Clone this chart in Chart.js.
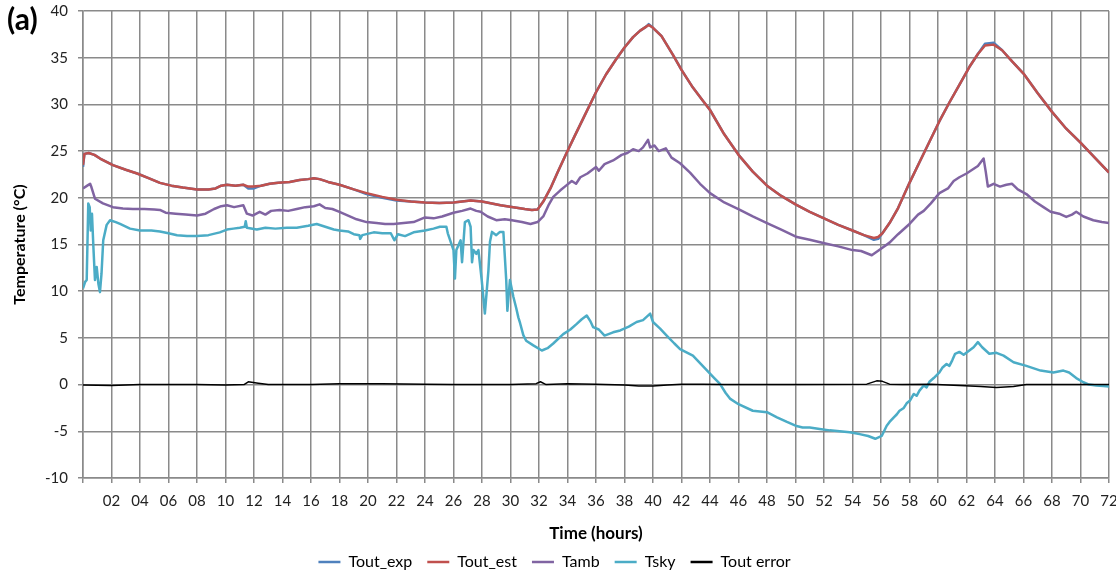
<!DOCTYPE html>
<html><head><meta charset="utf-8">
<script src="https://cdn.jsdelivr.net/npm/chart.js@4.4.0/dist/chart.umd.min.js"></script>
<style>
html,body{margin:0;padding:0;background:#fff;}
#wrap{position:relative;width:1116px;height:574px;}
#panel{position:absolute;left:7px;top:0px;font:bold 30px Lato, sans-serif;color:#000;}
</style></head><body>
<div id="wrap"><canvas id="c" width="1116" height="574"></canvas><div id="panel">(a)</div></div>
<script>
const seriesNames = ['Tout_exp','Tout_est','Tamb','Tsky','Tout error'];
const seriesColors = ['#4F81BD','#C0504D','#8064A2','#4BACC6','#000000'];

const hoursOut = [0,0.1,0.4,0.8,1.2,2.1,3.0,3.8,4.6,5.4,6.2,7.0,8.0,8.8,9.3,9.7,10.1,10.7,11.25,11.6,11.95,12.5,13.1,13.7,14.5,15.2,15.8,16.2,16.6,17.2,18.0,19.0,19.9,21.0,22.0,23.0,24.0,25.0,26.0,27.2,28.0,29.3,30.2,31.0,31.5,31.9,32.3,32.8,33.3,33.9,34.5,35.2,36.0,36.7,37.4,38.0,38.6,39.1,39.5,39.7,40.0,40.6,41.4,42.0,42.8,43.5,44.0,45.0,46.0,47.0,48.0,49.0,50.0,51.0,52.0,53.0,54.0,54.8,55.5,55.8,56.1,56.6,57.2,58.0,58.7,59.4,60.1,60.8,61.5,62.2,62.8,63.3,63.9,64.5,65.2,66.0,67.0,68.0,69.0,70.0,71.0,72.0];
const toutEst = [23.5,24.7,24.8,24.6,24.2,23.5,23.0,22.6,22.1,21.6,21.3,21.1,20.9,20.9,21.0,21.3,21.4,21.3,21.4,21.2,21.2,21.3,21.5,21.6,21.7,21.9,22.0,22.1,22.0,21.7,21.4,20.9,20.5,20.1,19.8,19.6,19.5,19.45,19.5,19.7,19.6,19.2,19.0,18.8,18.7,18.75,19.6,21.0,22.7,24.7,26.6,28.8,31.3,33.2,34.8,36.1,37.2,37.9,38.3,38.5,38.2,37.3,35.3,33.7,31.8,30.4,29.4,26.8,24.6,22.8,21.3,20.2,19.3,18.5,17.8,17.1,16.5,16.0,15.7,15.8,16.2,17.3,18.9,21.6,23.8,26.0,28.2,30.2,32.1,34.0,35.4,36.3,36.4,35.8,34.6,33.3,31.2,29.2,27.4,25.9,24.3,22.7];
const toutExp = [23.3,24.7,24.8,24.6,24.2,23.5,23.0,22.6,22.1,21.6,21.3,21.1,20.9,20.9,21.0,21.3,21.4,21.3,21.4,21.0,21.0,21.3,21.5,21.6,21.7,21.9,22.0,22.1,22.0,21.7,21.4,20.9,20.4,20.0,19.7,19.6,19.5,19.45,19.5,19.7,19.6,19.2,19.0,18.8,18.7,18.75,19.6,21.0,22.7,24.7,26.6,28.8,31.3,33.2,34.8,36.1,37.2,37.9,38.3,38.6,38.2,37.3,35.3,33.7,31.8,30.4,29.4,26.8,24.6,22.8,21.3,20.2,19.3,18.5,17.8,17.1,16.5,16.0,15.5,15.6,16.2,17.3,18.9,21.6,23.8,26.0,28.2,30.2,32.1,34.0,35.4,36.5,36.6,35.8,34.6,33.3,31.2,29.2,27.4,25.9,24.3,22.7];

const hoursAmb = [0,0.3,0.5,0.6,0.84,1.4,2.1,2.8,3.5,4.3,5.0,5.4,5.8,6.5,7.2,8.0,8.6,9.2,9.7,10.1,10.6,11.25,11.5,11.9,12.4,12.8,13.2,13.8,14.4,15.0,15.6,16.2,16.6,17.0,17.5,18.0,18.6,19.2,19.9,20.6,21.2,21.8,22.5,23.2,24.0,24.6,25.2,26.0,26.6,27.2,27.6,27.9,28.4,29.0,29.6,30.1,30.8,31.4,31.9,32.3,32.7,33.0,33.5,33.9,34.3,34.6,34.9,35.4,36.0,36.2,36.6,37.2,37.8,38.2,38.6,39.0,39.3,39.65,39.8,40.1,40.4,40.9,41.3,41.9,42.6,43.3,44.0,45.0,46.1,47.0,48.0,49.0,50.1,51.0,52.1,53.0,54.0,54.6,55.35,56.0,56.6,57.2,58.0,58.6,59.0,59.5,60.1,60.7,61.1,61.5,62.0,62.4,62.8,63.0,63.2,63.35,63.5,63.9,64.35,64.8,65.2,65.6,66.2,66.8,67.4,67.9,68.5,69.0,69.4,69.7,70.2,70.9,71.5,72.0];
const tamb = [21.0,21.3,21.5,21.1,19.9,19.4,19.0,18.85,18.8,18.8,18.75,18.7,18.4,18.3,18.2,18.1,18.3,18.8,19.1,19.2,19.0,19.2,18.3,18.1,18.5,18.2,18.6,18.7,18.6,18.8,19.0,19.1,19.3,18.9,18.8,18.5,18.1,17.7,17.4,17.3,17.2,17.2,17.3,17.4,17.9,17.8,18.0,18.4,18.6,18.85,18.6,18.5,18.0,17.6,17.7,17.6,17.4,17.2,17.4,18.0,19.3,20.1,20.8,21.3,21.8,21.5,22.2,22.6,23.3,22.9,23.6,24.0,24.6,24.8,25.2,25.0,25.4,26.2,25.4,25.6,25.0,25.3,24.3,23.7,22.7,21.5,20.5,19.5,18.7,18.0,17.3,16.6,15.8,15.5,15.1,14.8,14.4,14.3,13.85,14.55,15.2,16.1,17.2,18.2,18.6,19.4,20.5,21.0,21.8,22.2,22.6,23.0,23.4,23.8,24.2,22.8,21.2,21.5,21.2,21.4,21.5,20.9,20.4,19.6,19.0,18.5,18.3,17.95,18.2,18.5,18.0,17.6,17.4,17.3];

const hoursSky = [0,0.15,0.26,0.37,0.47,0.54,0.63,0.73,0.84,0.96,1.08,1.19,1.3,1.42,1.66,1.9,2.3,2.6,3.3,4.0,4.8,5.4,6.0,6.6,7.3,8.0,8.8,9.6,10.1,10.55,11.0,11.35,11.42,11.5,12.2,12.8,13.5,14.3,15.0,15.8,16.4,17.0,17.6,18.0,18.6,19.0,19.4,19.45,19.6,20.4,21.0,21.6,21.85,22.1,22.6,23.2,24.0,24.6,25.05,25.5,25.6,26.0,26.1,26.2,26.5,26.6,26.8,27.05,27.2,27.3,27.4,27.6,27.75,27.98,28.2,28.45,28.56,28.7,29.0,29.26,29.5,29.7,29.78,29.96,30.2,30.4,30.55,30.67,30.9,31.1,31.6,32.2,32.6,33.0,33.7,34.2,34.65,35.0,35.35,35.6,35.8,36.2,36.6,37.2,37.7,38.3,38.85,39.3,39.8,40.0,40.5,40.96,41.5,41.9,42.8,43.3,43.8,44.3,44.7,45.1,45.4,46.0,47.0,48.0,48.7,49.4,50.0,50.5,51.0,51.7,52.4,53.1,53.8,54.5,55.1,55.6,56.05,56.4,56.6,56.9,57.1,57.3,57.6,57.8,58.04,58.3,58.5,58.7,59.0,59.2,59.4,59.7,60.1,60.3,60.6,60.8,61.0,61.2,61.5,61.8,62.2,62.5,62.8,63.1,63.6,64.1,64.6,65.3,66.2,67.2,68.1,68.8,69.2,69.7,70.2,70.6,71.1,71.6,72.0];
const tsky = [10.3,11.0,11.2,19.4,19.0,16.5,18.3,14.7,11.2,12.6,10.8,9.9,11.9,15.45,17.1,17.6,17.4,17.2,16.7,16.5,16.5,16.4,16.2,16.0,15.9,15.9,16.0,16.3,16.6,16.7,16.8,16.9,17.5,16.8,16.6,16.8,16.7,16.8,16.8,17.0,17.2,16.9,16.6,16.5,16.4,16.1,16.0,15.6,16.0,16.3,16.2,16.2,15.45,16.1,15.9,16.3,16.5,16.7,16.9,16.9,16.2,14.4,11.35,14.4,15.45,13.1,17.4,17.6,16.9,13.1,14.4,14.0,14.4,11.2,7.6,12.2,15.3,16.35,16.0,16.35,16.35,11.2,7.9,11.2,9.4,8.2,7.2,6.6,5.3,4.7,4.2,3.65,3.9,4.4,5.4,5.9,6.5,7.0,7.4,6.8,6.15,5.9,5.25,5.6,5.8,6.2,6.7,6.9,7.6,6.7,6.0,5.25,4.4,3.8,3.1,2.3,1.5,0.7,0.07,-0.9,-1.5,-2.1,-2.8,-2.95,-3.5,-4.0,-4.4,-4.6,-4.6,-4.75,-4.9,-5.0,-5.1,-5.3,-5.5,-5.8,-5.5,-4.4,-4.0,-3.5,-3.2,-2.8,-2.5,-2.0,-1.7,-1.0,-1.2,-0.64,-0.1,-0.3,0.3,0.7,1.3,1.8,2.2,2.0,2.6,3.3,3.5,3.2,3.65,4.0,4.55,4.0,3.3,3.4,3.1,2.4,2.0,1.5,1.3,1.5,1.3,0.7,0.25,0.0,-0.1,-0.15,-0.2];

const hoursErr = [0,2,4,8,10,11.3,11.6,12.3,13,16,18,21,24,26,30,31.8,32.1,32.5,34,36,38,39,40,41,42,43.5,45,50,55,55.7,56.1,56.6,57.5,59.5,61.5,63,64.1,65.3,66.2,68,70,72];
const toutErr = [-0.05,-0.1,0.0,0.0,-0.05,0.0,0.3,0.15,0.0,0.0,0.1,0.1,0.05,0.0,0.0,0.1,0.3,0.0,0.1,0.05,-0.05,-0.15,-0.15,-0.05,0.05,0.05,0.0,0.0,0.05,0.4,0.35,0.05,0.0,0.05,-0.1,-0.2,-0.3,-0.2,0.0,0.0,0.0,0.0];

const xMin = 0, xMax = 72, xStep = 2;
const yMin = -10, yMax = 40, yStep = 5;

const FONT = 'Lato, "Open Sans", sans-serif';
const GRID = '#8a8a8a';
const toPts = (xs, ys) => xs.map((x, i) => ({x: x, y: ys[i]}));

const chart = new Chart(document.getElementById('c'), {
  type: 'line',
  data: {
    datasets: [
      {label: seriesNames[0], data: toPts(hoursOut, toutExp), borderColor: seriesColors[0], backgroundColor: seriesColors[0], borderWidth: 2.5, order: 5},
      {label: seriesNames[1], data: toPts(hoursOut, toutEst), borderColor: seriesColors[1], backgroundColor: seriesColors[1], borderWidth: 2.5, order: 4},
      {label: seriesNames[2], data: toPts(hoursAmb, tamb), borderColor: seriesColors[2], backgroundColor: seriesColors[2], borderWidth: 2.5, order: 3},
      {label: seriesNames[3], data: toPts(hoursSky, tsky), borderColor: seriesColors[3], backgroundColor: seriesColors[3], borderWidth: 2.5, order: 2},
      {label: seriesNames[4], data: toPts(hoursErr, toutErr), borderColor: seriesColors[4], backgroundColor: seriesColors[4], borderWidth: 1.5, order: 1}
    ]
  },
  options: {
    responsive: false,
    animation: false,
    devicePixelRatio: 1,
    elements: {point: {radius: 0}, line: {tension: 0, borderJoinStyle: 'round'}},
    layout: {padding: {left: 0, right: 7, top: 11, bottom: -6}},
    plugins: {
      tooltip: {enabled: false},
      legend: {
        position: 'bottom',
        labels: {
          font: {family: FONT, size: 16},
          color: '#000',
          boxWidth: 22,
          boxHeight: 2.5,
          padding: 15,
          sort: (a, b) => a.datasetIndex - b.datasetIndex,
          generateLabels: (ch) => {
            const items = Chart.defaults.plugins.legend.labels.generateLabels(ch);
            items.forEach(it => { it.lineWidth = 0; });
            return items;
          }
        }
      }
    },
    scales: {
      x: {
        type: 'linear', min: xMin, max: xMax,
        ticks: {stepSize: xStep, autoSkip: false, maxRotation: 0, padding: 9, color: '#222', font: {family: FONT, size: 15},
          callback: (v) => v === 0 ? '' : String(v).padStart(2, '0')},
        grid: {color: GRID, lineWidth: 1.5, tickLength: 5, tickColor: GRID},
        border: {color: GRID, width: 1.5},
        title: {display: true, text: 'Time (hours)', color: '#000', font: {family: FONT, size: 17, weight: 'bold'}, padding: {top: 4, bottom: -5}},
        afterFit: (s) => { s.paddingLeft = 0; s.paddingRight = 0; s.height = 61; }
      },
      y: {
        min: yMin, max: yMax,
        ticks: {stepSize: yStep, padding: 10, color: '#222', font: {family: FONT, size: 15}},
        grid: {color: GRID, lineWidth: 1.5, tickLength: 5, tickColor: GRID},
        border: {color: GRID, width: 1.5},
        title: {display: true, text: 'Temperature (°C)', color: '#000', font: {family: FONT, size: 16, weight: 'bold'}, padding: {top: 10, bottom: 0}},
        afterFit: (s) => { s.width = 83; s.paddingTop = 0; s.paddingBottom = 0; }
      }
    }
  }
});
</script>
</body></html>
